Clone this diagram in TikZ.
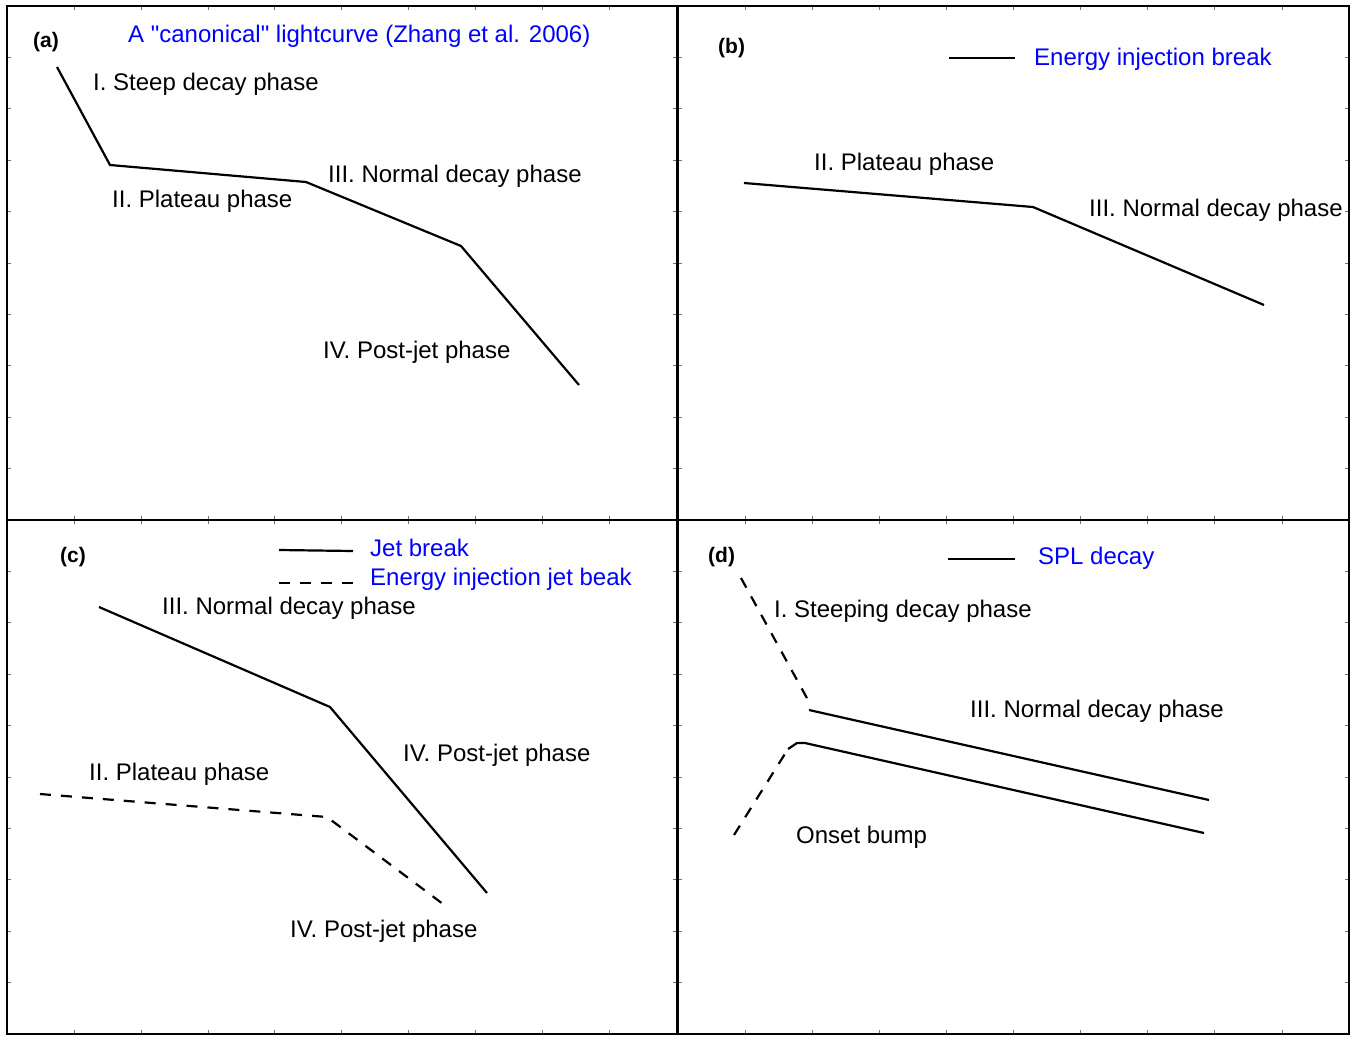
\documentclass[tikz,border=0pt]{standalone}
\usepackage{fontspec}
\setmainfont{Liberation Sans}
\begin{document}
\begin{tikzpicture}[x=1pt,y=-1pt,
  lbl/.style={anchor=west,inner sep=0pt,yshift=-2pt,font=\fontsize{24}{28}\selectfont},
  ttl/.style={lbl,text=blue},
  tag/.style={anchor=west,inner sep=0pt,yshift=-1pt,font=\fontsize{21}{24}\selectfont\bfseries},
  curve/.style={line width=2.2pt,line join=miter},
  dcurve/.style={curve,dash pattern=on 11pt off 10pt},
  frame/.style={line width=1.6pt},
  tickmark/.style={line width=0.7pt,black!55}]
\useasboundingbox (0,0) rectangle (1351,1036);
% panel frames with ticks
\foreach \xa/\ya/\xb/\yb in {7/6/676.5/520, 678/6/1349/520, 7/520/676.5/1034, 678/520/1349/1034} {
  \foreach \k in {1,...,9} {
    \pgfmathsetmacro\tx{\xa+(\xb-\xa)*\k/10}
    \pgfmathsetmacro\ty{\ya+(\yb-\ya)*\k/10}
    \draw[tickmark] (\tx,\ya) -- ++(0,4);
    \draw[tickmark] (\tx,\yb) -- ++(0,-4);
    \draw[tickmark] (\xa,\ty) -- ++(4,0);
    \draw[tickmark] (\xb,\ty) -- ++(-4,0);
  }
  \draw[frame] (\xa,\ya) rectangle (\xb,\yb);
}
% ---------- panel (a)
\node[tag] (ta) at (33,41) {(a)};
\node[ttl] (titlea) at (128,34) {A \textquotedbl canonical\textquotedbl{} lightcurve (Zhang et al. 2006)};
\coordinate (a1) at (57,67);
\coordinate (a2) at (110,165);
\coordinate (a3) at (306,182);
\coordinate (a4) at (461,246);
\coordinate (a5) at (579,385);
\draw[curve] (a1) -- (a2) -- (a3) -- (a4) -- (a5);
\node[lbl] (aI) at (93,82) {I. Steep decay phase};
\node[lbl] (aII) at (112,199) {II. Plateau phase};
\node[lbl] (aIII) at (328,174) {III. Normal decay phase};
\node[lbl] (aIV) at (323,350) {IV. Post-jet phase};
% ---------- panel (b)
\node[tag] (tb) at (718,47) {(b)};
\coordinate (lb1) at (949,58);
\coordinate (lb2) at (1015,58);
\draw[curve] (lb1) -- (lb2);
\node[ttl] (legb) at (1034,57) {Energy injection break};
\coordinate (b1) at (744,183);
\coordinate (b2) at (1033,207);
\coordinate (b3) at (1264,305);
\draw[curve] (b1) -- (b2) -- (b3);
\node[lbl] (bII) at (814,162) {II. Plateau phase};
\node[lbl] (bIII) at (1089,208) {III. Normal decay phase};
% ---------- panel (c)
\node[tag] (tc) at (60,556) {(c)};
\coordinate (lc1) at (279,550);
\coordinate (lc2) at (353,551);
\draw[curve] (lc1) -- (lc2);
\node[ttl] (legc1) at (370,546) {Jet break};
\coordinate (lc3) at (279,583);
\coordinate (lc4) at (353,583);
\draw[dcurve] (lc3) -- (lc4);
\node[ttl] (legc2) at (370,577) {Energy injection jet beak};
\coordinate (c1) at (99,607);
\coordinate (c2) at (330,707);
\coordinate (c3) at (487,893);
\draw[curve] (c1) -- (c2) -- (c3);
\coordinate (c4) at (40,794);
\coordinate (c5) at (327,817);
\coordinate (c6) at (447,907);
\draw[dcurve] (c4) -- (c5) -- (c6);
\node[lbl] (cIII) at (162,606) {III. Normal decay phase};
\node[lbl] (cIVa) at (403,753) {IV. Post-jet phase};
\node[lbl] (cII) at (89,772) {II. Plateau phase};
\node[lbl] (cIVb) at (290,929) {IV. Post-jet phase};
% ---------- panel (d)
\node[tag] (td) at (708,556) {(d)};
\coordinate (ld1) at (948,559);
\coordinate (ld2) at (1015,559);
\draw[curve] (ld1) -- (ld2);
\node[ttl] (legd) at (1038,556) {SPL decay};
\coordinate (d1) at (741,578);
\coordinate (d2) at (808,700);
\draw[dcurve] (d1) -- (d2);
\coordinate (d3) at (809,710);
\coordinate (d4) at (1209,800);
\draw[curve] (d3) -- (d4);
\coordinate (d5) at (734,835);
\coordinate (d6) at (788,749);
\coordinate (d7) at (797,743);
\coordinate (d8) at (805,743);
\coordinate (d9) at (1204,833);
\draw[dcurve] (d5) -- (d6);
\draw[curve] (d6) -- (d7) -- (d8) -- (d9);
\node[lbl] (dI) at (774,609) {I. Steeping decay phase};
\node[lbl] (dIII) at (970,709) {III. Normal decay phase};
\node[lbl] (donset) at (796,835) {Onset bump};
\end{tikzpicture}
\end{document}
